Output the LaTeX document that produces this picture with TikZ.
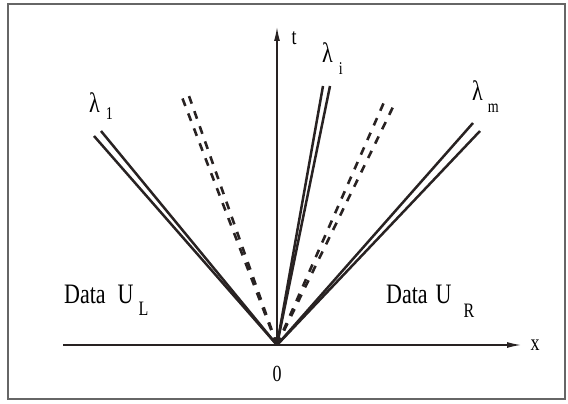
\documentclass[tikz,border=0pt]{standalone}
\usepackage{graphicx}
\usepackage{fontspec}
\setmainfont{Liberation Serif}
\usetikzlibrary{arrows.meta}
\definecolor{ink}{RGB}{40,34,34}
\newcommand{\tallt}[1]{\scalebox{1}[1.28]{#1}}
\begin{document}
\begin{tikzpicture}[x=1pt,y=-1pt,
  wave/.style={ink,line width=2.5pt,line cap=butt},
  dwave/.style={ink,line width=2.6pt,dash pattern=on 8pt off 8pt},
  axis/.style={ink,line width=1.3pt,-{Latex[length=14pt,width=6pt]}},
  lbl/.style={inner sep=0pt,anchor=base west,font=\fontsize{22}{24}\selectfont},
  small/.style={inner sep=0pt,anchor=base,font=\fontsize{18}{20}\selectfont}]
\useasboundingbox (0,0) rectangle (568,404);
\draw[gray!80!black,line width=1.4pt] (8,4) rectangle (565,399);
% origin and axes
\coordinate (O) at (277,345);
\coordinate (xl) at (63,345);
\coordinate (xr) at (521,345);
\coordinate (tt) at (277,27);
\draw[axis] (xl) -- (xr);
\draw[axis] (O) -- (tt);
\node[small] (xlab) at (535,350) {\tallt{x}};
\node[small] (tlab) at (294,45) {\tallt{t}};
\node[small] (zero) at (277,381) {\tallt{0}};
% lambda_1 pair
\coordinate (a1) at (94,136);
\coordinate (a2) at (101,131);
\draw[wave] (O) -- (a1);
\draw[wave] (O) -- (a2);
% left dashed pair
\coordinate (b1) at (180,92);
\coordinate (b2) at (189,96);
\draw[dwave] (O) -- (b1);
\draw[dwave] (O) -- (b2);
% lambda_i pair
\coordinate (c1) at (323,86);
\coordinate (c2) at (330,86);
\draw[wave] (O) -- (c1);
\draw[wave] (O) -- (c2);
% right dashed pair
\coordinate (d1) at (385,100);
\coordinate (d2) at (393,107);
\draw[dwave] (O) -- (d1);
\draw[dwave] (O) -- (d2);
% lambda_m pair
\coordinate (e1) at (473,123);
\coordinate (e2) at (480,131);
\draw[wave] (O) -- (e1);
\draw[wave] (O) -- (e2);
% labels
\node[lbl] (l1) at (89,112) {\tallt{λ}\hspace{6pt}\raisebox{-8pt}{\fontsize{14}{16}\selectfont\tallt{1}}};
\node[lbl] (li) at (322,63) {\tallt{λ}\hspace{6pt}\raisebox{-12pt}{\fontsize{14}{16}\selectfont\tallt{i}}};
\node[lbl] (lm) at (472,100) {\tallt{λ}\hspace{5pt}\raisebox{-12pt}{\fontsize{14}{16}\selectfont\tallt{m}}};
\node[lbl] (UL) at (64,303) {\tallt{Data}\hspace{12pt}\tallt{U}\hspace{5pt}\raisebox{-12pt}{\fontsize{16}{18}\selectfont\tallt{L}}};
\node[lbl] (UR) at (386,303) {\tallt{Data}\hspace{8pt}\tallt{U}\hspace{12pt}\raisebox{-14pt}{\fontsize{16}{18}\selectfont\tallt{R}}};
\end{tikzpicture}
\end{document}
